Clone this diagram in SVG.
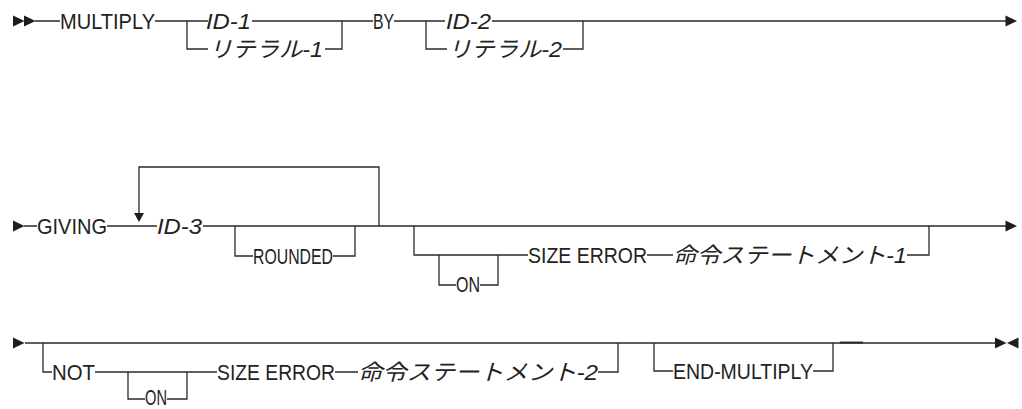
<svg xmlns="http://www.w3.org/2000/svg" width="1022" height="409" viewBox="0 0 1022 409">
<style>
.c{fill:none;stroke:#2a2a2a;stroke-width:1.3}
.a{fill:#1e1e1e}
text{font-family:"Liberation Sans","Noto Sans CJK JP",sans-serif;font-size:22.5px;fill:#222}
.i{font-style:italic}
.j{font-family:"Liberation Sans","Noto Sans CJK JP",sans-serif;font-size:22px;font-style:italic}
</style>
<defs>
<polygon id="ar" points="0,-5.5 11.5,0 0,5.5"/>
<polygon id="al" points="11.5,-5.5 0,0 11.5,5.5"/>
</defs>
<rect width="1022" height="409" fill="#fff"/>
<g id="connectors">
<path class="c" d="M35 21H60M155 21H208M187 21V49H208M252 21H373M325 49H342V21M394 21H445M426 21V49H447M492 21H1006M563 49H583V21"/>
<path class="c" d="M24 226H37M107 226H157M379 226V167H139V214M203 226H1006M235 226V256H253M333 256H355V226M414 226V255H528M439 255V285H456M480 285H498V255M647 255H673M907 255H929V226"/>
<path class="c" d="M25 343H996M43 343V372H52M95 372H217M128 372V399H145M167 399H187V372M335 372H358M598 372H618V343M654 343V371H673M813 371H833V343"/>
<path d="M840 342.5H863" stroke="#222" stroke-width="1.8"/>
<g class="a">
<use href="#ar" x="13" y="21"/><use href="#ar" x="24" y="21"/>
<use href="#ar" x="1005.5" y="21"/>
<use href="#ar" x="13" y="226"/>
<polygon points="134,213 144,213 139,222"/>
<use href="#ar" x="1005.5" y="226"/>
<use href="#ar" x="13" y="343"/>
<use href="#ar" x="995" y="343"/><use href="#al" x="1007" y="343"/>
</g>
</g>
<g id="multiply"><text x="60" y="28.5" textLength="95" lengthAdjust="spacingAndGlyphs">MULTIPLY</text></g>
<g id="id1"><text class="i" x="206" y="28.5" textLength="45" lengthAdjust="spacingAndGlyphs">ID-1</text></g>
<g id="lit1"><text class="j" x="209" y="56.5" textLength="114" lengthAdjust="spacingAndGlyphs">リテラル-1</text></g>
<g id="by"><text x="373" y="28.5" textLength="21" lengthAdjust="spacingAndGlyphs">BY</text></g>
<g id="id2"><text class="i" x="446" y="28.5" textLength="45" lengthAdjust="spacingAndGlyphs">ID-2</text></g>
<g id="lit2"><text class="j" x="448" y="56.5" textLength="114" lengthAdjust="spacingAndGlyphs">リテラル-2</text></g>
<g id="giving"><text x="37" y="233.5" textLength="70" lengthAdjust="spacingAndGlyphs">GIVING</text></g>
<g id="id3"><text class="i" x="157" y="233.5" textLength="45" lengthAdjust="spacingAndGlyphs">ID-3</text></g>
<g id="rounded"><text x="253" y="263.5" textLength="80" lengthAdjust="spacingAndGlyphs">ROUNDED</text></g>
<g id="on1"><text x="456" y="291.5" textLength="24" lengthAdjust="spacingAndGlyphs">ON</text></g>
<g id="sizeerror1"><text x="528" y="262.5" textLength="119" lengthAdjust="spacingAndGlyphs">SIZE ERROR</text></g>
<g id="stmt1"><text class="j" x="673" y="262.5" textLength="234" lengthAdjust="spacingAndGlyphs">命令ステートメント-1</text></g>
<g id="not"><text x="52" y="379.5" textLength="43" lengthAdjust="spacingAndGlyphs">NOT</text></g>
<g id="on2"><text x="145" y="405" textLength="22" lengthAdjust="spacingAndGlyphs">ON</text></g>
<g id="sizeerror2"><text x="217" y="379.5" textLength="118" lengthAdjust="spacingAndGlyphs">SIZE ERROR</text></g>
<g id="stmt2"><text class="j" x="358" y="379.5" textLength="240" lengthAdjust="spacingAndGlyphs">命令ステートメント-2</text></g>
<g id="endmultiply"><text x="673" y="378.5" textLength="140" lengthAdjust="spacingAndGlyphs">END-MULTIPLY</text></g>
</svg>
